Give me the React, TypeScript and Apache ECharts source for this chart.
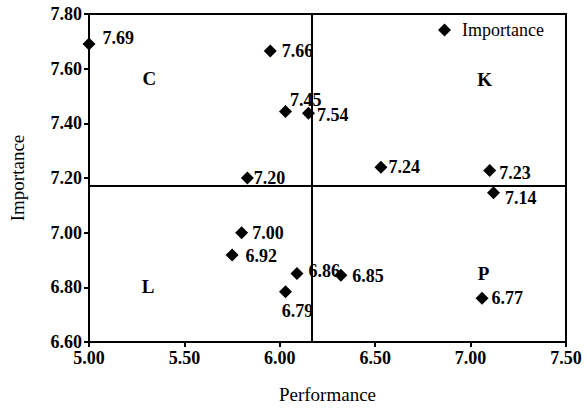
import React, { useEffect, useRef } from "react";
import * as echarts from "echarts";

const performance = [5.0, 5.95, 6.03, 6.15, 5.83, 6.53, 7.1, 7.12, 5.8, 5.75, 6.09, 6.03, 6.32, 7.06];
const importance = [7.69, 7.665, 7.443, 7.437, 7.2, 7.239, 7.227, 7.146, 7.0, 6.918, 6.851, 6.784, 6.844, 6.76];
const valueLabels = ["7.69", "7.66", "7.45", "7.54", "7.20", "7.24", "7.23", "7.14", "7.00", "6.92", "6.86", "6.79", "6.85", "6.77"];

const meanPerformance = 6.168;
const meanImportance = 7.165;

const quadrantNames = ["C", "K", "L", "P"];
const quadrantX = [5.316, 7.074, 5.31, 7.068];
const quadrantY = [7.563, 7.559, 6.803, 6.851];

const xTicks = { min: 5.0, max: 7.5, interval: 0.5 };
const yTicks = { min: 6.6, max: 7.8, interval: 0.2 };

const FONT = "Times New Roman, Liberation Serif, DejaVu Serif, serif";

// per-point label tweaks (styling only)
const labelOffsets: [number, number][] = [
  [2, -6], [0, 0], [-7, -12], [-3, 2], [-5, 0], [-4, 0], [-2, 2], [0, 5],
  [-1, 0], [2, 1], [0, -2], [12, -1], [0, 1], [-2, 0],
];
const labelPositions = ["right", "right", "right", "right", "right", "right", "right", "right", "right", "right", "right", "bottom", "right", "right"];

export default function App() {
  const ref = useRef<HTMLDivElement>(null);
  useEffect(() => {
    if (!ref.current) return;
    const chart = echarts.init(ref.current, undefined, { renderer: "svg" });
    const pts = performance.map((p, i) => ({
      value: [p, importance[i]],
      label: {
        show: true,
        formatter: valueLabels[i],
        position: labelPositions[i],
        offset: labelOffsets[i],
      },
    }));
    const quad = quadrantNames.map((n, i) => ({
      value: [quadrantX[i], quadrantY[i]],
      label: { show: true, formatter: n, position: "inside" },
    }));
    chart.setOption({
      animation: false,
      backgroundColor: "#fff",
      textStyle: { fontFamily: FONT },
      grid: {
        left: 89, right: 21, top: 14, bottom: 64,
        show: true, borderColor: "#000", borderWidth: 2, backgroundColor: "transparent",
      },
      legend: {
        left: 433, top: 16,
        itemWidth: 13, itemHeight: 13,
        data: [{ name: "Importance", icon: "diamond" }],
        itemStyle: { opacity: 1, color: "#000" },
        textStyle: { fontFamily: FONT, fontSize: 18, color: "#000", padding: [0, 0, 0, 6] },
      },
      xAxis: {
        type: "value",
        min: xTicks.min, max: xTicks.max, interval: xTicks.interval,
        name: "Performance", nameLocation: "middle", nameGap: 43,
        nameTextStyle: { fontFamily: FONT, fontSize: 19, color: "#000" },
        axisLine: { show: true, lineStyle: { color: "#000", width: 2 } },
        axisTick: { show: true, length: 5, lineStyle: { color: "#000", width: 2 } },
        axisLabel: { fontFamily: FONT, fontSize: 18, fontWeight: "bold", color: "#000", margin: 7, formatter: (v: number) => v.toFixed(2) },
        splitLine: { show: false },
      },
      yAxis: {
        type: "value",
        min: yTicks.min, max: yTicks.max, interval: yTicks.interval,
        name: "Importance", nameLocation: "middle", nameGap: 62,
        nameTextStyle: { fontFamily: FONT, fontSize: 19, color: "#000" },
        axisLine: { show: true, lineStyle: { color: "#000", width: 2 } },
        axisTick: { show: true, length: 5, lineStyle: { color: "#000", width: 2 } },
        axisLabel: { fontFamily: FONT, fontSize: 18, fontWeight: "bold", color: "#000", margin: 7, formatter: (v: number) => v.toFixed(2) },
        splitLine: { show: false },
      },
      series: [
        {
          name: "Importance",
          type: "scatter",
          symbol: "diamond",
          symbolSize: 13,
          itemStyle: { color: "#000", opacity: 1 },
          label: { fontFamily: FONT, fontSize: 18, fontWeight: "bold", color: "#000" },
          data: pts,
          markLine: {
            silent: true,
            symbol: "none",
            label: { show: false },
            lineStyle: { color: "#000", width: 2, type: "solid", opacity: 1 },
            data: [{ xAxis: meanPerformance }, { yAxis: meanImportance }],
          },
          z: 3,
        },
        {
          name: "quadrants",
          type: "scatter",
          symbolSize: 0,
          itemStyle: { opacity: 1 },
          label: { fontFamily: FONT, fontSize: 19, fontWeight: "bold", color: "#000" },
          data: quad,
          silent: true,
        },
      ],
    });
    return () => chart.dispose();
  }, []);
  return <div ref={ref} style={{ position: "fixed", left: 0, top: 0, width: 587, height: 409 }} />;
}
